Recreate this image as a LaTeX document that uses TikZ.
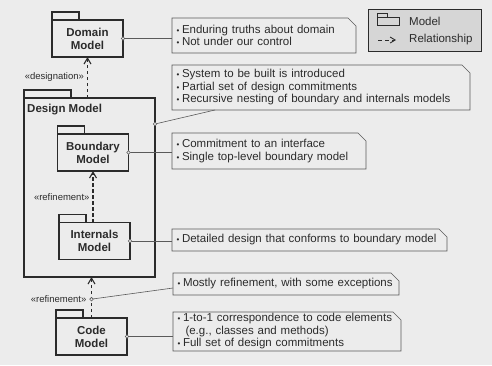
\documentclass[tikz,border=0pt]{standalone}
\usepackage{fontspec}
\setmainfont{Liberation Sans}
\usetikzlibrary{arrows.meta,positioning,calc}
\definecolor{paper}{HTML}{ECECEC}
\definecolor{ink}{HTML}{2B2B2B}
\definecolor{noteline}{HTML}{5A5A5A}
\definecolor{legendfill}{HTML}{D6D6D6}
\newcommand{\pkgfont}{\fontsize{11.5}{13}\selectfont\bfseries}
\newcommand{\notefont}{\fontsize{11.5}{12.5}\selectfont}
\newcommand{\tagfont}{\fontsize{9.5}{10}\selectfont}
\newcommand{\bul}{\makebox[5.5pt][l]{\fontsize{8}{8}\selectfont\textbullet}}
\tikzset{pkg/.style={draw=ink, line width=1.1pt, outer sep=0pt, minimum width=71pt, minimum height=37pt, align=center, font=\pkgfont, text=ink, inner sep=1pt,
  append after command={\pgfextra{\let\lastpkg\tikzlastnode
    \draw[ink, line width=1.1pt] (\lastpkg.north west) rectangle ([shift={(#1,8pt)}]\lastpkg.north west);}}},
  pkg/.default=27pt}
\tikzstyle{note}=[anchor=north west, inner xsep=4.5pt, inner ysep=0pt, outer sep=0pt, align=left, font=\notefont, text=ink,
  append after command={\pgfextra{\let\lastnote\tikzlastnode
    \draw[noteline, line width=0.7pt] (\lastnote.north west) -- ([xshift=-8pt]\lastnote.north east) -- ([yshift=-8pt]\lastnote.north east) -- (\lastnote.south east) -- (\lastnote.south west) -- cycle;}}]
\tikzstyle{dep}=[draw=ink, line width=1.1pt, dash pattern=on 3.5pt off 2.5pt, -{Straight Barb[length=6pt,width=7pt]}]
\tikzstyle{link}=[draw=noteline, line width=0.6pt]
\tikzstyle{pinc}=[draw=noteline, fill=paper, line width=0.6pt]
\tikzstyle{tag}=[font=\tagfont, text=ink, left, inner sep=3pt]

\begin{document}
\begin{tikzpicture}[x=1pt,y=-1pt]
\fill[paper] (0,0) rectangle (492,365);
\useasboundingbox (0,0) rectangle (492,365);
% models
\node (domain) [pkg] at (87.5,38.5) {Domain\\Model};
\node (design) [pkg=47pt, minimum width=131pt, minimum height=179pt] at (89.5,187.5) {};
\node (designtitle) [anchor=north west, font=\pkgfont, text=ink, inner sep=0pt] at ([shift={(3pt,-6pt)}]design.north west) {Design Model};
\node (boundary) [pkg] at (93,152.5) {Boundary\\Model};
\node (internals) [pkg] at (94.5,241) {Internals\\Model};
\node (code) [pkg] at (91.5,336.5) {Code\\Model};
% notes
\node (domainnote) [note, text width=175pt, minimum height=35pt] at (172,18) {\bul Enduring truths about domain\\\bul Not under our control};
\node (designnote) [note, text width=289pt, minimum height=45pt] at (172,65) {\bul System to be built is introduced\\\bul Partial set of design commitments\\\bul Recursive nesting of boundary and internals models};
\node (boundarynote) [note, text width=185pt, minimum height=36pt] at (172,133) {\bul Commitment to an interface\\\bul Single top-level boundary model};
\node (internalsnote) [note, text width=266pt, minimum height=22pt] at (172,229) {\bul Detailed design that conforms to boundary model};
\node (refinenote) [note, text width=217pt, minimum height=22pt] at (173,273) {\bul Mostly refinement, with some exceptions};
\node (codenote) [note, text width=219pt, minimum height=39pt] at (173,312) {\bul 1-to-1 correspondence to code elements\\\hspace*{8pt}(e.g., classes and methods)\\\bul Full set of design commitments};
% legend
\node (legend) [draw=ink, line width=0.8pt, fill=legendfill, anchor=north west, minimum width=113pt, minimum height=42pt, outer sep=0pt] at (368,9) {};
\node (legmodel) [anchor=west, font=\notefont, text=ink, inner sep=0pt] at (409,21) {Model};
\node (legrel) [anchor=west, font=\notefont, text=ink, inner sep=0pt] at (409,40) {Relationship};
\draw[ink, line width=0.8pt] (377,17) rectangle (399,25);
\draw[ink, line width=0.8pt] (377,13) rectangle (387,17);
\coordinate (legtail) at (378,40);
\coordinate (leghead) at (396,40);
\draw[dep, line width=0.9pt, dash pattern=on 4pt off 3pt, -{Straight Barb[length=5pt,width=6pt]}] (legtail) -- (leghead);
% relationships
\draw[dep] (domain.south |- design.north) -- node[tag]{«designation»} (domain.south);
\draw[dep] (boundary.south |- internals.north) -- node[tag]{«refinement»} (boundary.south);
\draw[dep] (code.north) -- coordinate[pos=0.46] (refpin) (code.north |- design.south);
\node (reftag) [tag] at ([xshift=-2pt]refpin) {«refinement»};
% note links
\draw[link] (domain.east) -- (domain.east -| domainnote.west);
\draw[link] ([yshift=-26pt]design.north east) -- ([xshift=43pt]designnote.south west);
\draw[link] (boundary.east) -- (boundary.east -| boundarynote.west);
\draw[link] (internals.east) -- (internals.east -| internalsnote.west);
\draw[link] (refpin) -- ([yshift=-4pt]refinenote.west);
\draw[link] (code.east) -- (code.east -| codenote.west);
\filldraw[pinc] (domain.east) circle[radius=1.8pt];
\filldraw[pinc] ([yshift=-26pt]design.north east) circle[radius=1.8pt];
\filldraw[pinc] (boundary.east) circle[radius=1.8pt];
\filldraw[pinc] (internals.east) circle[radius=1.8pt];
\filldraw[pinc] (refpin) circle[radius=1.8pt];
\filldraw[pinc] (code.east) circle[radius=1.8pt];
\end{tikzpicture}
\end{document}
